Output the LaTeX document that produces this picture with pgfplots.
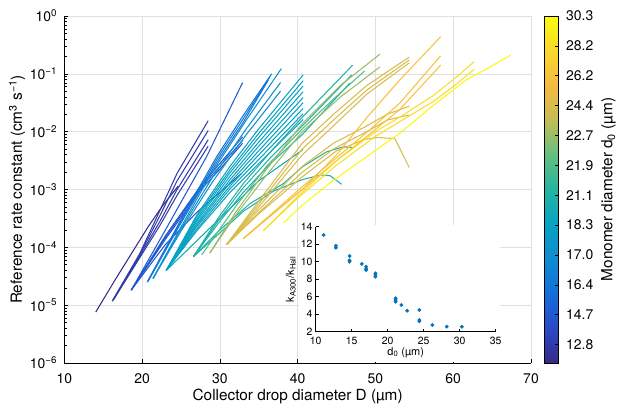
\documentclass[border=0pt]{standalone}
\usepackage{fontspec}
\setmainfont{TeX Gyre Heros}
\usepackage{pgfplots}
\pgfplotsset{compat=1.18}
\definecolor{mblue}{rgb}{0,0.447,0.741}
\pgfplotsset{
  colormap={parula}{rgb=(0.2081,0.1663,0.5292) rgb=(0.17,0.29,0.78) rgb=(0.08,0.43,0.86) rgb=(0.06,0.55,0.82) rgb=(0.03,0.64,0.76) rgb=(0.14,0.71,0.64) rgb=(0.40,0.75,0.50) rgb=(0.76,0.74,0.33) rgb=(0.97,0.73,0.25) rgb=(0.97,0.85,0.17) rgb=(0.9763,0.9831,0.0538)},
  grp/.style={color of colormap={#1 of parula}, line width=1.05bp, line join=round},
}
\begin{document}
\begin{tikzpicture}
\begin{axis}[
  name=main,
  at={(64.3bp,49bp)}, anchor=south west,
  scale only axis, width=466.7bp, height=347bp,
  xmin=10, xmax=70, ymode=log, ymin=1e-6, ymax=1,
  axis x line*=bottom, axis y line*=left,
  axis line style={-, line width=0.7bp},
  xtick={10,20,...,70},
  ytick={1e-6,1e-5,1e-4,1e-3,1e-2,1e-1,1},
  yticklabels={10\textsuperscript{−6},10\textsuperscript{−5},10\textsuperscript{−4},10\textsuperscript{−3},10\textsuperscript{−2},10\textsuperscript{−1},10\textsuperscript{0}},
  tick align=inside,
  major tick length=4bp, minor tick length=2.5bp,
  tick style={black, line width=0.5bp},
  grid=major, major grid style={black!12, line width=0.6bp},
  /pgf/number format/assume math mode=true,
  tick label style={font=\fontsize{14}{16}\selectfont},
  xticklabel style={inner sep=0pt, yshift=-10bp},
  yticklabel style={inner sep=0pt, xshift=-7bp},
  xlabel={Collector drop diameter D (µm)},
  ylabel={Reference rate constant (cm\textsuperscript{3} s\textsuperscript{−1})},
  every axis x label/.style={at={(axis description cs:0.5,-0.075)}, anchor=north, inner sep=0pt, font=\fontsize{15.4}{18}\selectfont},
  every axis y label/.style={at={(axis description cs:-0.0836,0.5)}, rotate=90, anchor=south, inner sep=0pt, font=\fontsize{15.4}{18}\selectfont},
  point meta min=-0.62, point meta max=11,
  colormap name=parula,
  colorbar right,
  colorbar style={
    scale only axis,
    width=14bp,
    at={(parent axis.north east)}, anchor=north west, xshift=4.5bp,
    ytick={0,...,11},
    yticklabels={12.8,14.7,16.4,17.0,18.3,21.1,21.9,22.7,24.4,26.2,28.2,30.3},
    ytick pos=right, yticklabel pos=right,
    tick align=inside, major tick length=3bp,
    tick style={black, line width=0.5bp},
    axis line style={line width=0.8bp},
    yticklabel style={inner sep=0pt, xshift=8bp, font=\fontsize{14}{16}\selectfont},
    ylabel={Monomer diameter d\textsubscript{0} (µm)},
    every axis y label/.style={at={([xshift=43bp]axis description cs:1,0.5)}, rotate=90, anchor=north, inner sep=0pt, font=\fontsize{15.4}{18}\selectfont},
  },
]
% d0 = 11.1
\addplot[grp=0] coordinates {(14.04,7.586e-6)(16.5,2.692e-5)(18.9,8.913e-5)(20.8,2.291e-4)(22.7,5.370e-4)(24.65,1.148e-3)};
% 12.8
\addplot[grp=53] coordinates {(16.17,1.175e-5)(19.7,7.762e-5)(22.3,4.365e-4)(24.5,1.905e-3)(28.5,1.549e-2)};
\addplot[grp=53] coordinates {(16.17,1.175e-5)(19.7,7.413e-5)(22.3,3.548e-4)(24.5,1.413e-3)(28.5,1.047e-2)};
\addplot[grp=53] coordinates {(16.3,1.230e-5)(19.7,7.079e-5)(22.3,2.818e-4)(24.5,1.0e-3)(28.5,7.244e-3)};
\addplot[grp=53] coordinates {(16.3,1.230e-5)(19.7,6.607e-5)(22.3,2.399e-4)(24.5,7.943e-4)(28.5,5.623e-3)};
% 14.7
\addplot[grp=139] coordinates {(18.6,1.820e-5)(23,1.995e-4)(28.3,3.715e-3)(32.93,7.079e-2)};
\addplot[grp=139] coordinates {(18.6,1.820e-5)(23,1.585e-4)(27.45,1.122e-3)(30,2.818e-3)(32.93,8.128e-3)};
\addplot[grp=139] coordinates {(18.6,1.820e-5)(23,1.479e-4)(27.45,1.047e-3)(30,2.512e-3)(32.93,7.079e-3)};
\addplot[grp=139] coordinates {(18.7,1.905e-5)(23,1.380e-4)(27.45,9.550e-4)(30,2.239e-3)(32.93,6.310e-3)};
\addplot[grp=139] coordinates {(18.6,1.820e-5)(23,1.122e-4)(27,3.981e-4)(32.8,1.905e-3)};
% 16.4
\addplot[grp=226] coordinates {(20.66,2.512e-5)(25,3.020e-4)(29.6,3.715e-3)(33,1.905e-2)(36.66,1.0e-1)};
\addplot[grp=226] coordinates {(20.7,2.512e-5)(25,2.818e-4)(29.6,3.311e-3)(33,1.660e-2)(36.44,8.913e-2)};
\addplot[grp=226] coordinates {(20.8,2.630e-5)(25,2.630e-4)(29.6,2.951e-3)(33,1.445e-2)(36.22,7.762e-2)};
% 17.0
\addplot[grp=312] coordinates {(21.4,2.884e-5)(25,2.239e-4)(29,1.995e-3)(33.4,1.585e-2)(37.9,1.230e-1)};
\addplot[grp=312] coordinates {(21.4,2.884e-5)(25,2.089e-4)(29,1.585e-3)(33.4,1.122e-2)(37.8,7.079e-2)};
\addplot[grp=312] coordinates {(21.4,2.884e-5)(25,1.905e-4)(29,1.318e-3)(33.4,8.913e-3)(37.8,5.012e-2)};
% 18.3
\addplot[grp=398] coordinates {(23.1,3.981e-5)(27,3.548e-4)(31.3,2.512e-3)(35,1.122e-2)(40.7,9.550e-2)};
\addplot[grp=398] coordinates {(23.1,3.981e-5)(27,3.311e-4)(31.3,2.188e-3)(35,9.333e-3)(40.7,7.586e-2)};
\addplot[grp=398] coordinates {(23.1,3.981e-5)(27,3.020e-4)(31.3,1.950e-3)(35,7.943e-3)(40.7,6.166e-2)};
\addplot[grp=398] coordinates {(23.1,3.981e-5)(27,2.818e-4)(31.3,1.698e-3)(35,6.607e-3)(40.7,4.898e-2)};
\addplot[grp=398] coordinates {(23.1,3.981e-5)(27,2.570e-4)(31.3,1.479e-3)(35,5.623e-3)(40.7,3.890e-2)};
\addplot[grp=398] coordinates {(23.1,3.981e-5)(27,2.399e-4)(31.3,1.318e-3)(35,4.677e-3)(40.7,3.162e-2)};
\addplot[grp=398] coordinates {(23.1,3.981e-5)(27,2.239e-4)(31.3,1.148e-3)(35,3.981e-3)(40.7,2.512e-2)};
\addplot[grp=398] coordinates {(23.1,3.981e-5)(27,2.042e-4)(31.3,1.023e-3)(35,3.311e-3)(40.7,2.042e-2)};
\addplot[grp=398] coordinates {(23.1,3.981e-5)(27,1.905e-4)(31.3,8.913e-4)(35,2.818e-3)(40.7,1.622e-2)};
\addplot[grp=420] coordinates {(23.1,3.981e-5)(30,3.162e-4)(35,1.413e-3)(40.7,4.898e-3)};
% 21.1
\addplot[grp=484] coordinates {(26.6,6.918e-5)(30,3.548e-4)(33,1.259e-3)(36.5,4.467e-3)(40.6,1.778e-2)(47.07,1.413e-1)};
\addplot[grp=484] coordinates {(26.6,6.918e-5)(30,3.162e-4)(33,1.072e-3)(36.5,3.548e-3)(40.6,1.259e-2)(46.94,9.550e-2)};
\addplot[grp=484] coordinates {(26.6,6.918e-5)(30,2.818e-4)(33,8.913e-4)(36.5,2.818e-3)(40.6,8.913e-3)(46.7,6.918e-2)};
\addplot[grp=484] coordinates {(26.6,6.918e-5)(30,1.995e-4)(33.9,5.754e-4)(38.15,1.259e-3)(40.6,2.455e-3)(43.7,4.467e-3)(45.9,5.495e-3)(47.16,5.248e-3)};
\addplot[grp=484] coordinates {(26.6,6.918e-5)(30,1.778e-4)(33,4.169e-4)(37,9.550e-4)(40.6,1.479e-3)(42.9,1.778e-3)(44.15,1.738e-3)(45.66,1.230e-3)};
% 21.9
\addplot[grp=570] coordinates {(27.66,7.413e-5)(32,5.012e-4)(36,2.512e-3)(40.6,1.122e-2)(44.5,3.548e-2)(48.6,1.122e-1)};
% 22.7
\addplot[grp=656] coordinates {(28.7,7.943e-5)(32,3.981e-4)(36,2.239e-3)(40.6,1.380e-2)(45.5,6.310e-2)(50.58,2.188e-1)};
\addplot[grp=656] coordinates {(28.7,7.943e-5)(32,3.548e-4)(36,1.778e-3)(40.6,1.0e-2)(45.5,3.981e-2)(50.58,1.318e-1)};
% 24.4
\addplot[grp=742] coordinates {(30.87,1.122e-4)(35,6.310e-4)(40.6,6.310e-3)(44.6,1.995e-2)(48.9,6.310e-2)(54.35,1.950e-1)};
\addplot[grp=742] coordinates {(30.87,1.122e-4)(35,5.623e-4)(40.6,5.012e-3)(44.6,1.585e-2)(48.9,5.248e-2)(54.35,1.738e-1)};
\addplot[grp=742] coordinates {(30.87,1.122e-4)(35,5.012e-4)(40.6,3.981e-3)(44.6,1.259e-2)(48.9,4.467e-2)(54.35,1.549e-1)};
\addplot[grp=742] coordinates {(30.87,1.122e-4)(35,4.467e-4)(40.6,2.512e-3)(44.6,6.310e-3)(48.9,1.259e-2)(51.5,1.995e-2)(54.35,2.754e-2)};
\addplot[grp=742] coordinates {(30.87,1.122e-4)(35,3.981e-4)(40.6,1.995e-3)(44.6,5.012e-3)(48.9,1.0e-2)(51.5,1.585e-2)(54.35,1.950e-2)};
\addplot[grp=742] coordinates {(30.87,1.122e-4)(35,3.802e-4)(40.6,1.660e-3)(45,4.677e-3)(48.5,7.244e-3)(50.15,7.943e-3)(52.5,7.586e-3)(54.35,2.399e-3)};
% 26.2
\addplot[grp=828] coordinates {(33,1.413e-4)(37,3.981e-4)(40.6,1.0e-3)(45,3.981e-3)(49,1.820e-2)(53.1,7.762e-2)(58.38,4.365e-1)};
\addplot[grp=828] coordinates {(33,1.413e-4)(37,4.169e-4)(40.6,1.122e-3)(45,3.548e-3)(49,1.0e-2)(53.1,3.090e-2)(58.38,2.042e-1)};
\addplot[grp=828] coordinates {(33,1.413e-4)(37,3.981e-4)(40.6,1.0e-3)(45,3.162e-3)(49,8.511e-3)(53.1,2.399e-2)(58.38,1.413e-1)};
% 28.2
\addplot[grp=914] coordinates {(35.6,1.950e-4)(40,7.586e-4)(45,3.162e-3)(50,1.0e-2)(53.1,1.778e-2)(57.4,4.169e-2)(60,7.943e-2)(62.7,1.622e-1)};
\addplot[grp=914] coordinates {(35.6,1.950e-4)(40,7.079e-4)(45,2.630e-3)(50,8.318e-3)(53.1,1.479e-2)(57.4,3.311e-2)(60,6.026e-2)(62.7,1.202e-1)};
% 30.3
\addplot[grp=1000] coordinates {(38.15,2.630e-4)(40.6,5.370e-4)(44.6,1.445e-3)(49,3.802e-3)(53.1,9.333e-3)(57.4,2.818e-2)(61.7,7.943e-2)(64.5,1.259e-1)(67.4,2.113e-1)};
\end{axis}
\fill[white] (299bp,50bp) rectangle (500bp,187bp);
\begin{axis}[
  at={(315.7bp,80.3bp)}, anchor=south west,
  scale only axis, width=180bp, height=105bp,
  xmin=10, xmax=35, ymin=2, ymax=14,
  xtick={10,15,...,35}, ytick={2,4,...,14},
  axis x line*=bottom, axis y line*=left,
  axis line style={-, line width=0.6bp},
  tick align=inside, major tick length=3bp,
  tick style={black, line width=0.5bp},
  /pgf/number format/assume math mode=true,
  tick label style={font=\fontsize{10.5}{12}\selectfont},
  xticklabel style={inner sep=0pt, yshift=-5bp},
  yticklabel style={inner sep=0pt, xshift=-3bp},
  xlabel={d\textsubscript{0} (µm)},
  ylabel={k\textsubscript{A300}/k\textsubscript{Hall}},
  every axis x label/.style={at={(axis description cs:0.5,-0.145)}, anchor=north, inner sep=0pt, font=\fontsize{11}{13}\selectfont},
  every axis y label/.style={at={(axis description cs:-0.11,0.5)}, rotate=90, anchor=south, inner sep=0pt, font=\fontsize{11}{13}\selectfont},
]
\addplot[only marks, mark=*, mark size=1.7bp, color=mblue] coordinates {
(11.1,13.05)(12.8,11.82)(12.8,11.6)(14.7,10.65)(14.7,10.15)(14.7,10.0)(16.4,9.74)
(17.0,9.43)(17.0,9.17)(17.0,9.06)(18.3,8.67)(18.3,8.48)(18.3,8.28)
(21.1,5.82)(21.1,5.62)(21.1,5.43)(21.9,5.05)(22.7,4.4)(24.4,4.48)(24.4,3.34)(24.4,3.19)
(26.2,2.77)(28.2,2.57)(30.3,2.57)};
\end{axis}
\pgfresetboundingbox
\useasboundingbox (0,0) rectangle (617bp,412bp);
\end{tikzpicture}
\end{document}
